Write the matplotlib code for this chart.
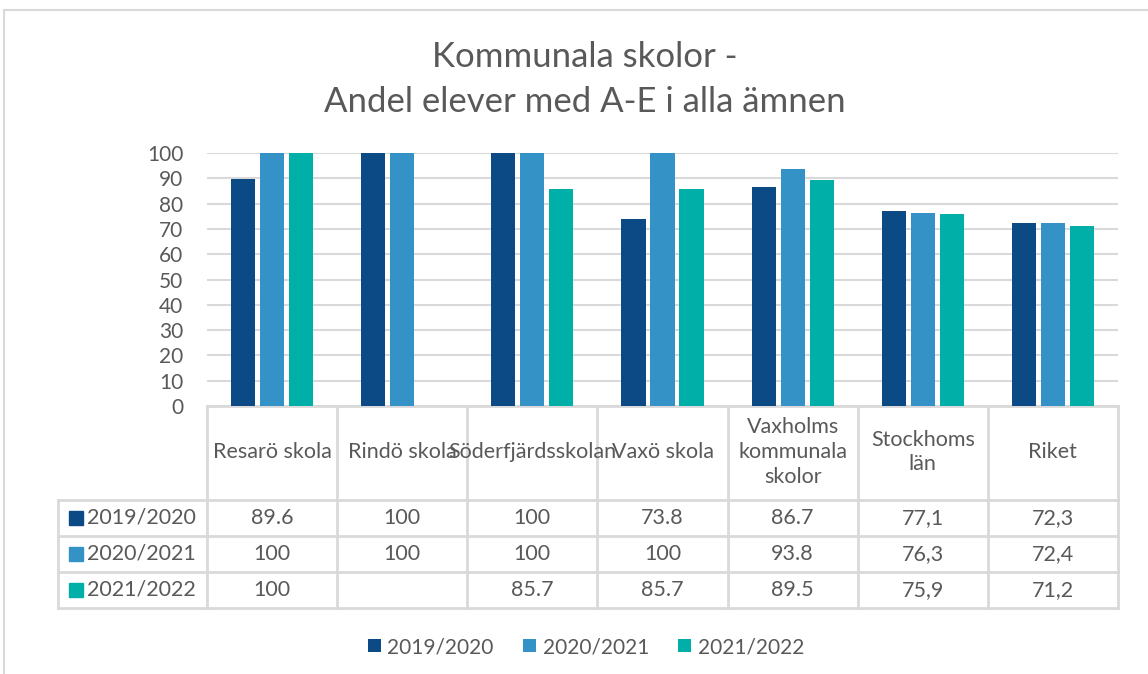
import numpy as np
import matplotlib.pyplot as plt
from matplotlib import transforms
from matplotlib.patches import Rectangle, Patch

plt.rcParams['font.family'] = ['Lato', 'DejaVu Sans']

# data
categories = ['Resarö skola', 'Rindö skola', 'Söderfjärdsskolan', 'Vaxö skola',
              'Vaxholms\nkommunala\nskolor', 'Stockhoms\nlän', 'Riket']
series_names = ['2019/2020', '2020/2021', '2021/2022']
v_2019 = [89.6, 100, 100, 73.8, 86.7, 77.1, 72.3]
v_2020 = [100, 100, 100, 100, 93.8, 76.3, 72.4]
v_2021 = [100, np.nan, 85.7, 85.7, 89.5, 75.9, 71.2]
comma_decimal = [False, False, False, False, False, True, True]

colors = ['#0B4A85', '#3592C7', '#00B0A8']
text_c = '#595959'
line_c = '#D9D9D9'

W, H = 1148, 674
fig = plt.figure(figsize=(W / 100, H / 100), dpi=100)
fig.patch.set_facecolor('white')

# outer chart border
fig.add_artist(Rectangle((4 / W, -0.1), 1.2, 1 - 10 / H + 0.1, transform=fig.transFigure,
                         facecolor='none', edgecolor=line_c, linewidth=1.5))

ax = fig.add_axes([207 / W, 1 - 406 / H, (1118 - 207) / W, (406 - 153) / H])
x = np.arange(len(categories))
bw = 0.185
off = 0.223
for i, vals in enumerate([v_2019, v_2020, v_2021]):
    ax.bar(x + (i - 1) * off, vals, width=bw, color=colors[i], zorder=3)

ax.set_xlim(-0.5, len(categories) - 0.5)
ax.set_ylim(0, 100)
ax.set_yticks(np.arange(0, 101, 10))
ax.tick_params(axis='y', length=0, labelsize=15, labelcolor=text_c, pad=17)
ax.set_xticks([])
ax.grid(axis='y', color=line_c, linewidth=1.5, zorder=0)
for s in ax.spines.values():
    s.set_visible(False)

# data table below the axes: x in data units, y in figure pixels
tr = transforms.blended_transform_factory(ax.transData, fig.transFigure)
def fy(p):
    return 1 - p / H

left_x = -0.5 - (207 - 58) / 130
right_x = len(categories) - 0.5
row_y = [406, 500, 536, 572, 608]
lk = dict(color=line_c, linewidth=2, transform=tr, clip_on=False)

# horizontal lines
ax.plot([-0.5, right_x], [fy(406), fy(406)], **lk)
for yy in row_y[1:]:
    ax.plot([left_x, right_x], [fy(yy), fy(yy)], **lk)
# vertical lines
ax.plot([left_x, left_x], [fy(500), fy(608)], **lk)
for k in range(len(categories) + 1):
    xx = k - 0.5
    ax.plot([xx, xx], [fy(406), fy(608)], **lk)

# header text
for k, c in enumerate(categories):
    ax.text(k, fy(452), c, transform=tr, ha='center', va='center', fontsize=15.5,
            color=text_c, linespacing=1.3, clip_on=False)

# rows
for r, (name, vals) in enumerate(zip(series_names, [v_2019, v_2020, v_2021])):
    yc = fy((row_y[r + 1] + row_y[r + 2]) / 2)
    sq_x = left_x + 18 / 130
    ax.plot([sq_x], [yc], marker='s', markersize=9.4, color=colors[r], transform=tr,
            clip_on=False, linestyle='none')
    ax.text(left_x + 29 / 130, yc, name, transform=tr, ha='left', va='center',
            fontsize=15.5, color=text_c, clip_on=False)
    for k, v in enumerate(vals):
        if np.isnan(v):
            continue
        s = f'{v:g}'
        if comma_decimal[k]:
            s = s.replace('.', ',')
        ax.text(k, yc, s, transform=tr, ha='center', va='center', fontsize=15.5,
                color=text_c, clip_on=False)

# title
fig.text(585 / W, 1 - 57 / H, 'Kommunala skolor -', ha='center', va='center',
         fontsize=25, color=text_c)
fig.text(585 / W, 1 - 102 / H, 'Andel elever med A-E i alla ämnen', ha='center',
         va='center', fontsize=25, color=text_c)

# legend
handles = [Patch(facecolor=c, edgecolor='none') for c in colors]
fig.legend(handles, series_names, loc='center', bbox_to_anchor=(586 / W, 1 - 647 / H),
           ncol=3, frameon=False, fontsize=15, handlelength=0.62, handleheight=0.62,
           handletextpad=0.33, columnspacing=1.4, labelcolor=text_c)

fig.savefig('out.png', dpi=100)
